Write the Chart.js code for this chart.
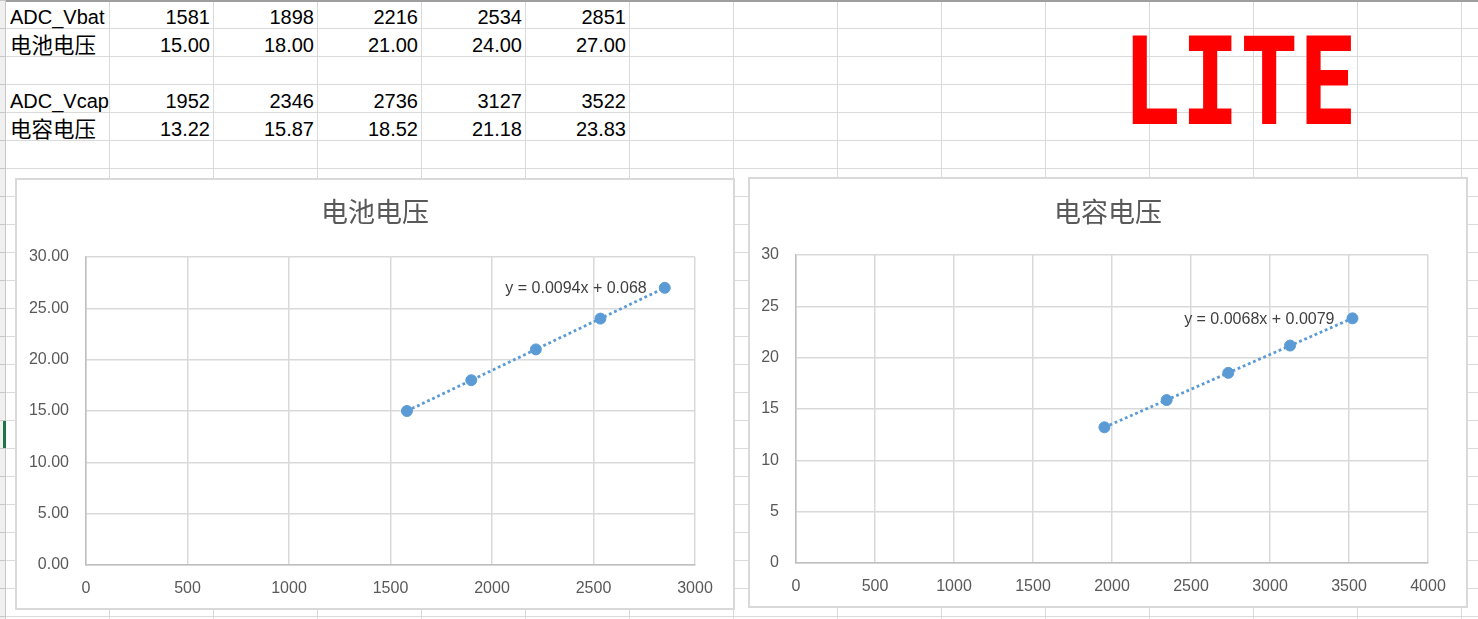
<!DOCTYPE html>
<html>
<head>
<meta charset="utf-8">
<script src="https://cdn.jsdelivr.net/npm/chart.js@4.4.1/dist/chart.umd.min.js"></script>
<style>
html, body { margin: 0; padding: 0; }
body {
  width: 1478px; height: 619px; overflow: hidden; position: relative; background-color: #fff;
  background-image: linear-gradient(to right, #dadada 1px, transparent 1px), linear-gradient(to bottom, #dadada 1px, transparent 1px);
  background-size: 104px 28px; background-position: 5px 0, 0 0;
  font-family: "Liberation Sans", Arial, "Noto Sans CJK SC", sans-serif;
}
#topline { position: absolute; left: 0; top: 0; width: 1478px; height: 2px; background: #9e9e9e; }
#strip { position: absolute; left: 0; top: 0; width: 5px; height: 619px; background-color: #f0f0f0;
  border-right: 1px solid #c8c8c8;
  background-image: linear-gradient(to bottom, #c8c8c8 1px, transparent 1px); background-size: 5px 28px; }
#sel { position: absolute; left: 3px; top: 421px; width: 3px; height: 27px; background: #217346; }
.cell { position: absolute; line-height: 28px; font-size: 20px; color: #000; white-space: nowrap; }
.cell.cjk { font-family: "Noto Sans CJK SC", sans-serif; font-size: 21.5px; }
.num { text-align: right; width: 101px; }
.box { position: absolute; background: #fff; border: 2px solid #d9d9d9; }
#box1 { left: 15px; top: 178px; width: 716px; height: 428px; }
#box2 { left: 748px; top: 177px; width: 716px; height: 427px; }
#lite { position: absolute; left: 0; top: 0; }
</style>
</head>
<body>
<div id="topline"></div>
<div id="strip"></div>
<div id="sel"></div>
<div id="cells"></div>
<svg id="lite" width="1478" height="170">
  <text x="0" y="0" font-family="DejaVu Sans Mono" font-weight="bold" font-size="121" fill="#ff0000"
    transform="translate(1122,124) scale(0.808,1)">LITE</text>
</svg>
<div class="box" id="box1"><canvas id="c1" width="716" height="428"></canvas></div>
<div class="box" id="box2"><canvas id="c2" width="716" height="427"></canvas></div>
<script>
// 表格数据
const adcVbat = [1581, 1898, 2216, 2534, 2851];
const vbat = [15.00, 18.00, 21.00, 24.00, 27.00];
const adcVcap = [1952, 2346, 2736, 3127, 3522];
const vcap = [13.22, 15.87, 18.52, 21.18, 23.83];
const rowLabels = ["ADC_Vbat", "电池电压", "ADC_Vcap", "电容电压"];
const chartTitles = ["电池电压", "电容电压"];
const trendLabels = ["y = 0.0094x + 0.068", "y = 0.0068x + 0.0079"];

function buildCells() {
  const host = document.getElementById("cells");
  const rows = [
    { top: 0, label: rowLabels[0], cjk: false, vals: adcVbat.map(v => String(v)) },
    { top: 28, label: rowLabels[1], cjk: true, vals: vbat.map(v => v.toFixed(2)) },
    { top: 84, label: rowLabels[2], cjk: false, vals: adcVcap.map(v => String(v)) },
    { top: 112, label: rowLabels[3], cjk: true, vals: vcap.map(v => v.toFixed(2)) }
  ];
  rows.forEach(r => {
    const lab = document.createElement("div");
    lab.className = r.cjk ? "cell cjk" : "cell";
    lab.style.left = "10px";
    lab.style.top = (r.top + (r.cjk ? 2 : 3)) + "px";
    lab.textContent = r.label;
    host.appendChild(lab);
    r.vals.forEach((v, i) => {
      const d = document.createElement("div");
      d.className = "cell num";
      d.style.left = (109 + i * 104) + "px";
      d.style.top = (r.top + 3) + "px";
      d.textContent = v;
      host.appendChild(d);
    });
  });
}

// 线性趋势线（最小二乘）
function fit(xs, ys) {
  const n = xs.length;
  const mx = xs.reduce((a, b) => a + b, 0) / n;
  const my = ys.reduce((a, b) => a + b, 0) / n;
  let sxy = 0, sxx = 0;
  xs.forEach((x, i) => { sxy += (x - mx) * (ys[i] - my); sxx += (x - mx) * (x - mx); });
  const k = sxy / sxx;
  return { k, b: my - k * mx };
}

// 标题居中于整个图表框，趋势线公式放在最后一个点左侧
const labelsPlugin = {
  id: "xlLabels",
  afterDatasetsDraw(chart, args, opts) {
    const ctx = chart.ctx;
    ctx.save();
    ctx.font = "27px 'Noto Sans CJK SC', sans-serif";
    ctx.fillStyle = "#595959";
    ctx.textAlign = "center";
    ctx.textBaseline = "middle";
    ctx.fillText(opts.title, chart.width / 2, opts.titleY);

    const meta = chart.getDatasetMeta(0);
    const last = meta.data[meta.data.length - 1];
    ctx.font = '16px "Liberation Sans", Arial, sans-serif';
    ctx.fillStyle = "#404040";
    ctx.textAlign = "right";
    ctx.fillText(opts.trend, last.x - 18, last.y + 1);
    ctx.restore();
  }
};

function makeChart(id, xs, ys, o) {
  const t = fit(xs, ys);
  const x0 = xs[0], x1 = xs[xs.length - 1];
  const tickFont = { family: "'Liberation Sans', Arial, sans-serif", size: 16 };
  return new Chart(document.getElementById(id), {
    type: "scatter",
    data: {
      datasets: [{
        data: xs.map((x, i) => ({ x, y: ys[i] })),
        backgroundColor: "#5B9BD5",
        borderColor: "#5B9BD5",
        pointRadius: 5.5,
        showLine: false
      }, {
        data: [{ x: x0, y: t.k * x0 + t.b }, { x: x1, y: t.k * x1 + t.b }],
        showLine: true,
        borderColor: "#5B9BD5",
        borderWidth: 2.8,
        borderDash: [2.8, 2.8],
        pointRadius: 0
      }]
    },
    options: {
      responsive: false,
      animation: false,
      layout: { padding: { left: 0, right: 38, top: o.top, bottom: 0 } },
      plugins: {
        legend: { display: false },
        tooltip: { enabled: false },
        title: { display: false },
        xlLabels: { title: o.title, titleY: o.titleY, trend: o.trend }
      },
      scales: {
        x: {
          type: "linear", min: 0, max: o.xMax,
          afterFit: s => { s.height = 43; },
          grid: { color: "#d9d9d9", lineWidth: 1.5, drawTicks: false },
          border: { color: "#bfbfbf", width: 1.5 },
          ticks: { stepSize: 500, padding: 14, maxRotation: 0, autoSkip: false, color: "#595959",
            font: tickFont, callback: v => String(v) }
        },
        y: {
          min: 0, max: 30,
          afterFit: s => { s.width = o.yWidth; },
          grid: { color: "#d9d9d9", lineWidth: 1.5, drawTicks: false },
          border: { color: "#bfbfbf", width: 1.5 },
          ticks: { stepSize: 5, padding: 17, color: "#595959", font: tickFont,
            callback: v => o.decimals ? v.toFixed(2) : String(v) }
        }
      }
    },
    plugins: [labelsPlugin]
  });
}

buildCells();
makeChart("c1", adcVbat, vbat, { title: chartTitles[0], trend: trendLabels[0], xMax: 3000, yWidth: 69, decimals: true, top: 77, titleY: 32 });
makeChart("c2", adcVcap, vcap, { title: chartTitles[1], trend: trendLabels[1], xMax: 4000, yWidth: 46, decimals: false, top: 76, titleY: 33 });
</script>
</body>
</html>
